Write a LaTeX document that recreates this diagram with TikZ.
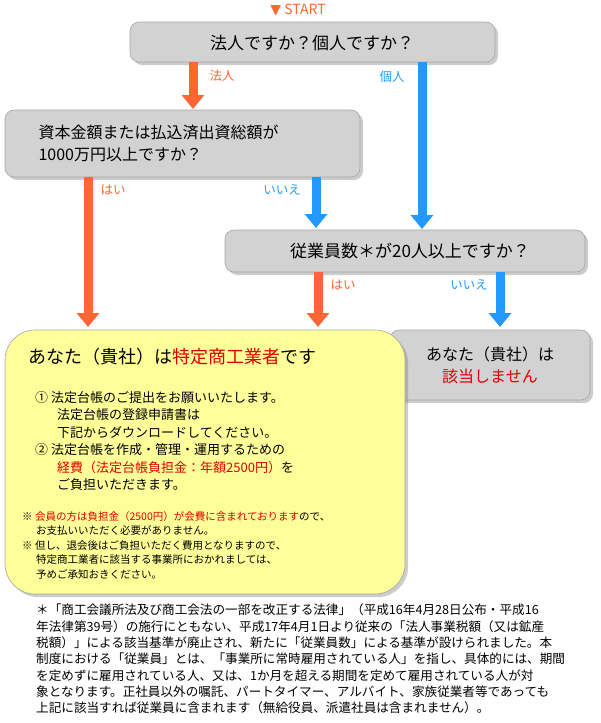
\documentclass[tikz,border=0pt]{standalone}
\usepackage{fontspec}
\setmainfont{Noto Sans CJK JP}
\newfontfamily\djvfont{DejaVu Sans}
\usetikzlibrary{arrows.meta,shadows}
\definecolor{org}{HTML}{FF6633}
\definecolor{blu}{HTML}{2299FF}
\definecolor{gbox}{HTML}{D2D2D2}
\definecolor{ylw}{HTML}{FFFF99}
\definecolor{rd}{HTML}{E00000}
\begin{document}
\begin{tikzpicture}[x=1pt,y=-1pt,
 box/.style={draw=gray!70,fill=gbox,rounded corners=9pt,line width=0.6pt,drop shadow={shadow xshift=3pt,shadow yshift=-3pt,opacity=0.4}},
 arr/.style={line width=9pt,-{Triangle[width=22pt,length=14pt]}},
 lab/.style={font=\fontsize{12.5}{14}\selectfont,inner sep=0pt}]
\useasboundingbox (0,0) rectangle (600,723);
\node[lab,text=org,font=\fontsize{14}{16}\selectfont] (start) at (298,10) {{\djvfont ▼} START};
% boxes
\draw[box] (130,22) rectangle (495,62);
\node[font=\fontsize{17}{20}\selectfont] (q1) at (312,43) {法人ですか？個人ですか？};
\draw[box] (5,110) rectangle (360,177);
\node[font=\fontsize{16}{22}\selectfont,align=left,anchor=west] (q2) at (35,143) {資本金額または払込済出資総額が\\1000万円以上ですか？};
\draw[box] (225,230) rectangle (585,272);
\node[font=\fontsize{17}{20}\selectfont] (q3) at (410,251) {従業員数＊が20人以上ですか？};
\draw[box] (390,330) rectangle (590,400);
\node[font=\fontsize{16}{22}\selectfont,align=center] (no) at (490,365) {あなた（貴社）は\\\textcolor{rd}{該当しません}};
\draw[box,fill=ylw,rounded corners=30pt] (5,330) rectangle (405,594);
\node[font=\fontsize{18}{22}\selectfont,anchor=west] (yes) at (25,357) {あなた（貴社）は\textcolor{rd}{特定商工業者}です};
\node[font=\fontsize{13}{17.5}\selectfont,align=left,anchor=north west,inner sep=0pt] (items) at (35,391) {%
① 法定台帳のご提出をお願いいたします。\\
\hspace*{22pt}法定台帳の登録申請書は\\
\hspace*{22pt}下記からダウンロードしてください。\\
② 法定台帳を作成・管理・運用するための\\
\hspace*{22pt}\textcolor{rd}{経費（法定台帳負担金：年額2500円）}を\\
\hspace*{22pt}ご負担いただきます。};
\node[font=\fontsize{10.5}{14.5}\selectfont,align=left,anchor=north west,inner sep=0pt] (notes) at (22,511) {%
※ \textcolor{rd}{会員の方は負担金（2500円）が会費に含まれております}ので、\\
\hspace*{14pt}お支払いいただく必要がありません。\\
※ 但し、退会後はご負担いただく費用となりますので、\\
\hspace*{14pt}特定商工業者に該当する事業所におかれましては、\\
\hspace*{14pt}予めご承知おきください。};
% arrows
\coordinate (a1s) at (193,62); \coordinate (a1e) at (193,109);
\draw[arr,org] (a1s) -- (a1e);
\node[lab,text=org] (l1) at (222,76) {法人};
\coordinate (a2s) at (422,62); \coordinate (a2e) at (422,229);
\draw[arr,blu] (a2s) -- (a2e);
\node[lab,text=blu] (l2) at (392,77) {個人};
\coordinate (a3s) at (88,177); \coordinate (a3e) at (88,327);
\draw[arr,org] (a3s) -- (a3e);
\node[lab,text=org] (l3) at (113,190) {はい};
\coordinate (a4s) at (316,177); \coordinate (a4e) at (316,228);
\draw[arr,blu] (a4s) -- (a4e);
\node[lab,text=blu] (l4) at (282,190) {いいえ};
\coordinate (a5s) at (318,272); \coordinate (a5e) at (318,327);
\draw[arr,org] (a5s) -- (a5e);
\node[lab,text=org] (l5) at (343,285) {はい};
\coordinate (a6s) at (500,272); \coordinate (a6e) at (500,327);
\draw[arr,blu] (a6s) -- (a6e);
\node[lab,text=blu] (l6) at (469,285) {いいえ};
% footer
\node[font=\fontsize{12.6}{16.3}\selectfont,align=left,anchor=north west,inner sep=0pt] (foot) at (36,604) {%
＊「商工会議所法及び商工会法の一部を改正する法律」（平成16年4月28日公布・平成16\\
年法律第39号）の施行にともない、平成17年4月1日より従来の「法人事業税額（又は鉱産\\
税額）」による該当基準が廃止され、新たに「従業員数」による基準が設けられました。本\\
制度における「従業員」とは、「事業所に常時雇用されている人」を指し、具体的には、期間\\
を定めずに雇用されている人、又は、1か月を超える期間を定めて雇用されている人が対\\
象となります。正社員以外の嘱託、パートタイマー、アルバイト、家族従業者等であっても\\
上記に該当すれば従業員に含まれます（無給役員、派遣社員は含まれません）。};
\end{tikzpicture}
\end{document}
